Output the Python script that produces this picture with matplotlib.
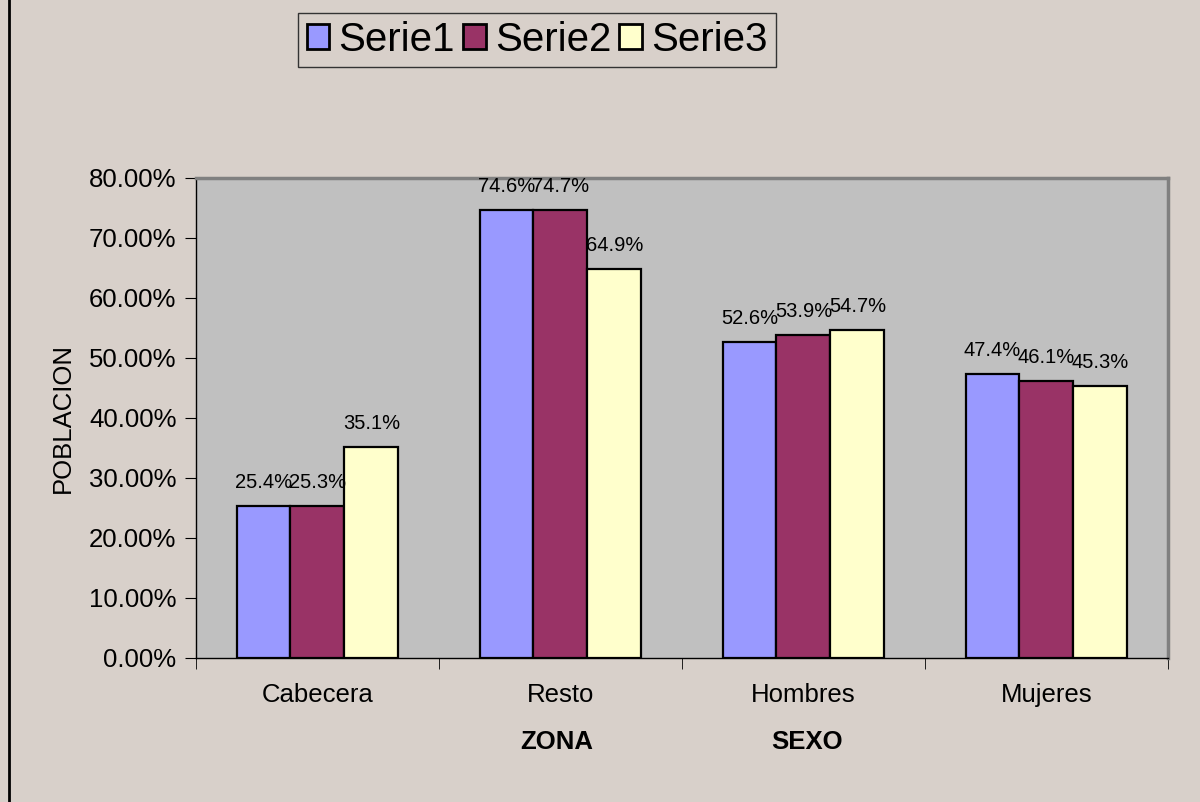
import numpy as np
import matplotlib
matplotlib.use("Agg")
import matplotlib.pyplot as plt
from matplotlib.lines import Line2D
from matplotlib.ticker import FixedLocator, PercentFormatter

plt.rcParams['font.family'] = ['Liberation Sans', 'DejaVu Sans']

categories = ['Cabecera', 'Resto', 'Hombres', 'Mujeres']
series_names = ['Serie1', 'Serie2', 'Serie3']
serie1 = [25.4, 74.6, 52.6, 47.4]
serie2 = [25.3, 74.7, 53.9, 46.1]
serie3 = [35.1, 64.9, 54.7, 45.3]
group_labels = ['ZONA', 'SEXO']
colors = ['#9999FF', '#993366', '#FFFFCC']

bg = '#D8D0CA'
fig = plt.figure(figsize=(12, 8.02), dpi=100, facecolor=bg)
ax = fig.add_axes([0.1633, 0.1796, 0.81, 0.5985])
ax.set_facecolor('#C0C0C0')

x = np.arange(len(categories))
w = 0.222
for i, (vals, name) in enumerate(zip([serie1, serie2, serie3], series_names)):
    pos = x + (i - 1) * w
    bars = ax.bar(pos, vals, w, color=colors[i], edgecolor='black', lw=1.6, label=name, zorder=3)
    for b, v in zip(bars, vals):
        ax.annotate(f"{v:.1f}%", (b.get_x() + b.get_width() / 2, v), xytext=(0, 10),
                    textcoords='offset points', ha='center', va='bottom', fontsize=14.5, zorder=4)

ax.set_xlim(-0.5, len(categories) - 0.5)
ax.set_ylim(0, 80)
ax.yaxis.set_major_locator(FixedLocator(np.arange(0, 81, 10)))
ax.yaxis.set_major_formatter(PercentFormatter(decimals=2))
ax.set_xticks(x)
ax.set_xticklabels(categories)
ax.xaxis.set_minor_locator(FixedLocator(np.arange(-0.5, len(categories), 1)))
ax.tick_params(axis='x', which='major', length=0, pad=18, labelsize=18.5)
ax.tick_params(axis='x', which='minor', length=8, direction='out', color='black')
ax.tick_params(axis='y', length=8, direction='out', color='black', labelsize=18.5, pad=6)
for s in ['top', 'right']:
    ax.spines[s].set_color('#808080')
    ax.spines[s].set_linewidth(2.5)
for s in ['left', 'bottom']:
    ax.spines[s].set_color('black')
    ax.spines[s].set_linewidth(1.0)

ax.set_ylabel('POBLACION', fontsize=18.5, labelpad=10)

fig.text(557 / 1200, 1 - 742 / 802, group_labels[0], ha='center', va='center', fontsize=18.5, fontweight='bold')
fig.text(807 / 1200, 1 - 742 / 802, group_labels[1], ha='center', va='center', fontsize=18.5, fontweight='bold')

leg = fig.legend(loc='center', bbox_to_anchor=(537 / 1200, 1 - 40 / 802), ncol=3, fontsize=29,
                 frameon=True, fancybox=False, edgecolor='#333333', facecolor=bg, framealpha=1,
                 handlelength=0.57, handleheight=0.57, handletextpad=0.22, columnspacing=0.2,
                 borderpad=0.2, borderaxespad=0)
leg.get_frame().set_linewidth(1.0)
for h in leg.legend_handles:
    h.set_linewidth(2)

fig.add_artist(Line2D([8.5 / 1200, 8.5 / 1200], [0, 1], transform=fig.transFigure, color='black', lw=2))

fig.savefig('out.png', dpi=100, facecolor=bg)
